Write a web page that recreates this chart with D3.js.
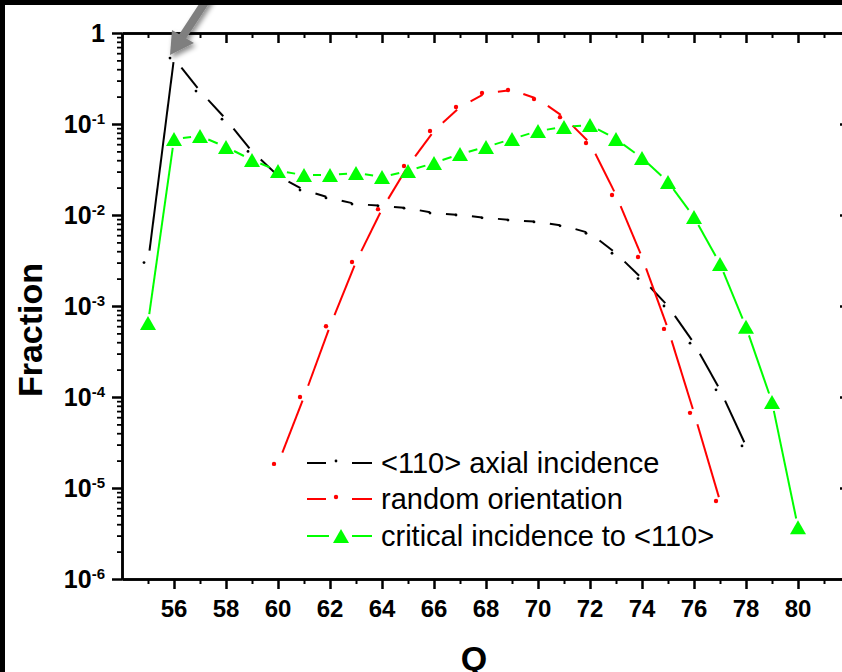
<!DOCTYPE html>
<html>
<head>
<meta charset="utf-8">
<script src="https://cdn.jsdelivr.net/npm/d3@7"></script>
<style>
body { margin: 0; background: #fff; }
svg { display: block; font-family: "Liberation Sans", Arial, sans-serif; }
</style>
</head>
<body>
<svg id="chart"></svg>
<script>
const width = 842;
const height = 672;
const margin = { top: 33, bottom: 93, left: 122, right: -8 };

// <110> axial incidence
const qAxial = [55, 56, 57, 58, 59, 60, 61, 62, 63, 64, 65, 66, 67, 68, 69, 70, 71, 72, 73, 74, 75, 76, 77, 78];
const fracAxial = [0.003, 0.53, 0.23, 0.113, 0.050, 0.027, 0.0188, 0.0154, 0.0132, 0.0126, 0.0119, 0.0105,
    0.0100, 0.0093, 0.0088, 0.0084, 0.0076, 0.0063, 0.0038, 0.0020, 0.0010, 0.00039, 0.00012, 0.000029];

// random orientation
const qRandom = [60, 61, 62, 63, 64, 65, 66, 67, 68, 69, 70, 71, 72, 73, 74, 75, 76, 77];
const fracRandom = [1.84e-5, 1.0e-4, 6.0e-4, 0.00305, 0.0116, 0.0345, 0.0838, 0.154, 0.219, 0.236, 0.188,
    0.119, 0.0618, 0.0166, 0.00345, 5.6e-4, 6.7e-5, 7.2e-6];

// critical incidence to <110>
const qCritical = [55, 56, 57, 58, 59, 60, 61, 62, 63, 64, 65, 66, 67, 68, 69, 70, 71, 72, 73, 74, 75, 76, 77, 78, 79, 80];
const fracCritical = [6.5e-4, 0.0684, 0.0738, 0.0559, 0.0402, 0.0305, 0.0275, 0.0275, 0.029, 0.0262, 0.0305,
    0.0373, 0.0468, 0.0559, 0.0684, 0.0838, 0.0927, 0.0975, 0.0684, 0.0423, 0.0231, 0.0095, 0.0029,
    5.9e-4, 8.8e-5, 3.7e-6];

const legendLabels = ["<110> axial incidence", "random orientation", "critical incidence to <110>"];
const xMajorTicks = [56, 58, 60, 62, 64, 66, 68, 70, 72, 74, 76, 78, 80];
const xMinorTicks = [55, 57, 59, 61, 63, 65, 67, 69, 71, 73, 75, 77, 79, 81];
const yExponents = [0, -1, -2, -3, -4, -5, -6];

const svg = d3.select("#chart")
    .attr("width", width)
    .attr("height", height)
    .attr("viewBox", [0, 0, width, height]);

svg.append("rect").attr("width", width).attr("height", height).attr("fill", "#fff");

const xScale = d3.scaleLinear()
    .domain([54, 82])
    .range([margin.left, width - margin.right]);

const yScale = d3.scaleLog()
    .domain([1e-6, 1])
    .range([height - margin.bottom, margin.top]);

const yMajor = yExponents.map(e => Math.pow(10, e));
const yMinor = [];
yExponents.slice(1).forEach(e => {
    for (let m = 2; m <= 9; m++) yMinor.push(m * Math.pow(10, e));
});

function styleAxis(g, w) {
    g.select(".domain").attr("stroke", "#000").attr("stroke-width", 2.5);
    g.selectAll(".tick line").attr("stroke", "#000").attr("stroke-width", w);
    g.selectAll(".tick text").remove();
}

// bottom axis (ticks outward)
svg.append("g")
    .attr("transform", `translate(0, ${yScale(1e-6)})`)
    .call(d3.axisBottom(xScale).tickValues(xMajorTicks).tickSize(10).tickSizeOuter(0))
    .call(g => styleAxis(g, 2.5));
svg.append("g")
    .attr("transform", `translate(0, ${yScale(1e-6)})`)
    .call(d3.axisBottom(xScale).tickValues(xMinorTicks).tickSize(5).tickSizeOuter(0))
    .call(g => styleAxis(g, 2));

// top axis (ticks inward)
svg.append("g")
    .attr("transform", `translate(0, ${yScale(1)})`)
    .call(d3.axisBottom(xScale).tickValues(xMajorTicks).tickSize(10).tickSizeOuter(0))
    .call(g => styleAxis(g, 2.5));
svg.append("g")
    .attr("transform", `translate(0, ${yScale(1)})`)
    .call(d3.axisBottom(xScale).tickValues(xMinorTicks).tickSize(5).tickSizeOuter(0))
    .call(g => styleAxis(g, 2));

// left axis (ticks outward)
svg.append("g")
    .attr("transform", `translate(${xScale(54)}, 0)`)
    .call(d3.axisLeft(yScale).tickValues(yMajor).tickSize(10).tickSizeOuter(0))
    .call(g => styleAxis(g, 2.5));
svg.append("g")
    .attr("transform", `translate(${xScale(54)}, 0)`)
    .call(d3.axisLeft(yScale).tickValues(yMinor).tickSize(5).tickSizeOuter(0))
    .call(g => styleAxis(g, 1.8));

// right axis (ticks inward)
svg.append("g")
    .attr("transform", `translate(${xScale(82)}, 0)`)
    .call(d3.axisLeft(yScale).tickValues(yMajor).tickSize(10).tickSizeOuter(0))
    .call(g => styleAxis(g, 2.5));
svg.append("g")
    .attr("transform", `translate(${xScale(82)}, 0)`)
    .call(d3.axisLeft(yScale).tickValues(yMinor).tickSize(5).tickSizeOuter(0))
    .call(g => styleAxis(g, 1.8));

// x tick labels
svg.append("g")
    .selectAll("text")
    .data(xMajorTicks)
    .join("text")
    .attr("x", d => xScale(d))
    .attr("y", yScale(1e-6) + 38)
    .attr("text-anchor", "middle")
    .attr("font-size", "24px")
    .attr("font-weight", "bold")
    .text(d => d);

// y tick labels
const yLab = svg.append("g")
    .selectAll("text")
    .data(yExponents)
    .join("text")
    .attr("x", 105)
    .attr("y", d => yScale(Math.pow(10, d)) + 9)
    .attr("text-anchor", "end")
    .attr("font-size", "25px")
    .attr("font-weight", "bold");
yLab.filter(d => d === 0).text("1");
yLab.filter(d => d !== 0).each(function (d) {
    const t = d3.select(this);
    t.append("tspan").text("10");
    t.append("tspan").attr("dy", -9).attr("font-size", "15px").text(d);
});

// axis titles
svg.append("text")
    .attr("transform", `translate(42, ${(yScale(1) + yScale(1e-6)) / 2 + 24}) rotate(-90)`)
    .attr("text-anchor", "middle")
    .attr("font-size", "34px")
    .attr("font-weight", "bold")
    .text("Fraction");

svg.append("text")
    .attr("x", 474)
    .attr("y", 670)
    .attr("text-anchor", "middle")
    .attr("font-size", "34px")
    .attr("font-weight", "bold")
    .text("Q");

// segments with gaps at each point (Origin style)
function drawSegments(qs, vals, color, gap0, gap1) {
    const pts = qs.map((q, i) => [xScale(q), yScale(vals[i])]);
    const segs = d3.pairs(pts).map(([a, b]) => {
        const dx = b[0] - a[0], dy = b[1] - a[1];
        const len = Math.hypot(dx, dy);
        const ux = dx / len, uy = dy / len;
        return [a[0] + ux * gap0, a[1] + uy * gap0, b[0] - ux * gap1, b[1] - uy * gap1];
    });
    svg.append("g")
        .selectAll("line")
        .data(segs)
        .join("line")
        .attr("x1", d => d[0]).attr("y1", d => d[1])
        .attr("x2", d => d[2]).attr("y2", d => d[3])
        .attr("stroke", color)
        .attr("stroke-width", 2);
    return pts;
}

const triangle = "M0,-7L8,7L-8,7Z";

const ptsAxial = drawSegments(qAxial, fracAxial, "#000", 12, 4);
svg.append("g").selectAll("circle").data(ptsAxial).join("circle")
    .attr("cx", d => d[0] - 4).attr("cy", d => d[1]).attr("r", 1.4).attr("fill", "#000");

const ptsRandom = drawSegments(qRandom, fracRandom, "#ff0000", 12, 4);
svg.append("g").selectAll("circle").data(ptsRandom).join("circle")
    .attr("cx", d => d[0] - 4).attr("cy", d => d[1]).attr("r", 2.2).attr("fill", "#ff0000");

const ptsCritical = drawSegments(qCritical, fracCritical, "#00ff00", 9, 9);
svg.append("g").selectAll("path").data(ptsCritical).join("path")
    .attr("d", triangle)
    .attr("transform", d => `translate(${d[0]}, ${d[1]})`)
    .attr("fill", "#00ff00");

// legend
const legendColors = ["#000", "#ff0000", "#00ff00"];
const legendY = [463, 499, 536];
const legend = svg.append("g");
legendLabels.forEach((label, i) => {
    const y = legendY[i];
    const c = legendColors[i];
    legend.append("line").attr("x1", 307).attr("x2", i === 2 ? 329 : 326).attr("y1", y).attr("y2", y)
        .attr("stroke", c).attr("stroke-width", 2);
    legend.append("line").attr("x1", 352).attr("x2", 372).attr("y1", y).attr("y2", y)
        .attr("stroke", c).attr("stroke-width", 2);
    if (i === 2) {
        legend.append("path").attr("d", triangle).attr("transform", `translate(341, ${y})`).attr("fill", c);
    } else {
        legend.append("circle").attr("cx", 336).attr("cy", y - 2).attr("r", i === 0 ? 1.4 : 2.2).attr("fill", c);
    }
    legend.append("text")
        .attr("x", 381)
        .attr("y", y + 10)
        .attr("font-size", "29px")
        .attr("fill", "#000")
        .text(label);
});

// gray arrow pointing at the peak
const defs = svg.append("defs");
defs.append("filter").attr("id", "shadow")
    .attr("x", "-50%").attr("y", "-50%").attr("width", "200%").attr("height", "200%")
    .append("feDropShadow")
    .attr("dx", 2).attr("dy", 3).attr("stdDeviation", 2.5)
    .attr("flood-color", "#000").attr("flood-opacity", 0.45);

const arrow = svg.append("g").attr("filter", "url(#shadow)");
arrow.append("line")
    .attr("x1", 213).attr("y1", -10).attr("x2", 181).attr("y2", 39)
    .attr("stroke", "#7f7f7f").attr("stroke-width", 8);
arrow.append("path")
    .attr("d", "M170,55L172,30L194,43Z")
    .attr("fill", "#7f7f7f");

// black frame (top and left)
svg.append("rect").attr("x", 0).attr("y", 0).attr("width", width).attr("height", 5).attr("fill", "#000");
svg.append("rect").attr("x", 0).attr("y", 0).attr("width", 5).attr("height", height).attr("fill", "#000");
</script>
</body>
</html>
